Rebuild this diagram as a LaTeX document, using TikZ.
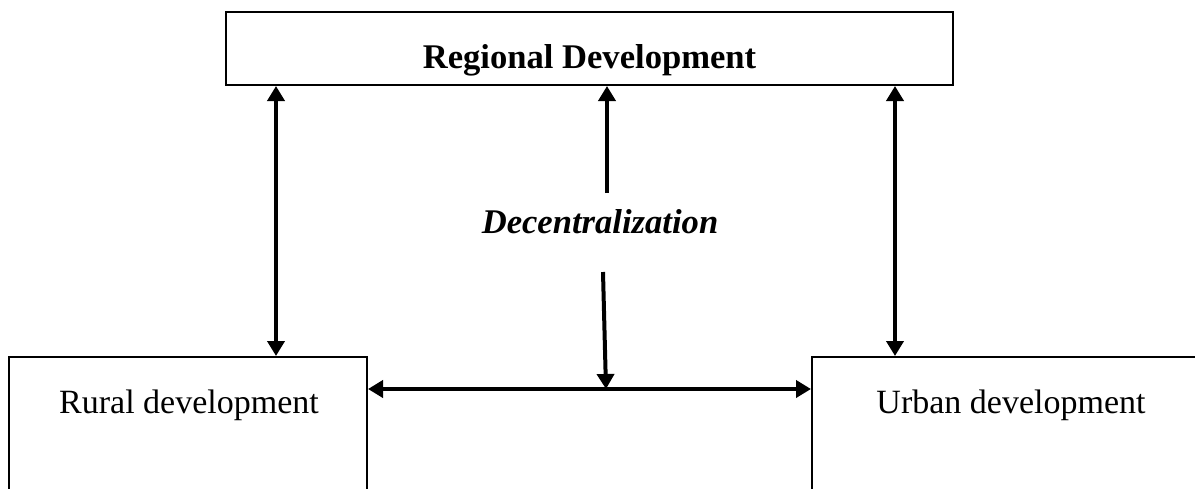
\documentclass[tikz,border=0pt]{standalone}
\usepackage{fontspec}
\setmainfont{Liberation Serif}
\usetikzlibrary{arrows.meta}

\begin{document}
\begin{tikzpicture}[
    x=0.5pt, y=-0.5pt,
    box/.style={rectangle, draw, line width=1pt, inner sep=0pt},
    lbl/.style={anchor=base, inner sep=0pt, font=\fontsize{17}{20}\selectfont},
    title/.style={anchor=base, inner sep=0pt, font=\fontsize{17.3}{20}\selectfont\bfseries},
    mid/.style={anchor=base, inner sep=0pt, font=\fontsize{17.3}{20}\selectfont\bfseries\itshape},
    dbl/.style={{Triangle[length=7.5pt, width=8.5pt]}-{Triangle[length=7.5pt, width=8.5pt]}, line width=2pt},
    arrow/.style={-{Triangle[length=7.5pt, width=8.5pt]}, line width=2pt}
]
\useasboundingbox (0,0) rectangle (1195,488);
\clip (0,0) rectangle (1195,488);

\node[box, minimum width=363.5pt, minimum height=36.5pt] (reg) at (589.5,48.5) {};
\node[box, minimum width=179pt, minimum height=81.5pt] (rural) at (188,438.5) {};
\node[box, minimum width=209pt, minimum height=81.5pt] (urban) at (1021,438.5) {};

\node[title] (regtxt) at (589.5,68) {Regional Development};
\node[lbl] (ruraltxt) at (189,413) {Rural development};
\node[lbl] (urbantxt) at (1011,413) {Urban development};
\node[mid] (dec) at (600,233) {Decentralization};

\coordinate (lx) at (276,0);
\coordinate (rx) at (895,0);
\coordinate (upfrom) at (607,193);
\coordinate (downfrom) at (603,272);
\coordinate (join) at (606,389);

\draw[dbl] (reg.south -| lx) -- (rural.north -| lx);
\draw[dbl] (reg.south -| rx) -- (urban.north -| rx);
\draw[arrow] (upfrom) -- (reg.south -| upfrom);
\draw[arrow] (downfrom) -- (join);
\draw[dbl] (rural.east |- join) -- (urban.west |- join);

\end{tikzpicture}
\end{document}
